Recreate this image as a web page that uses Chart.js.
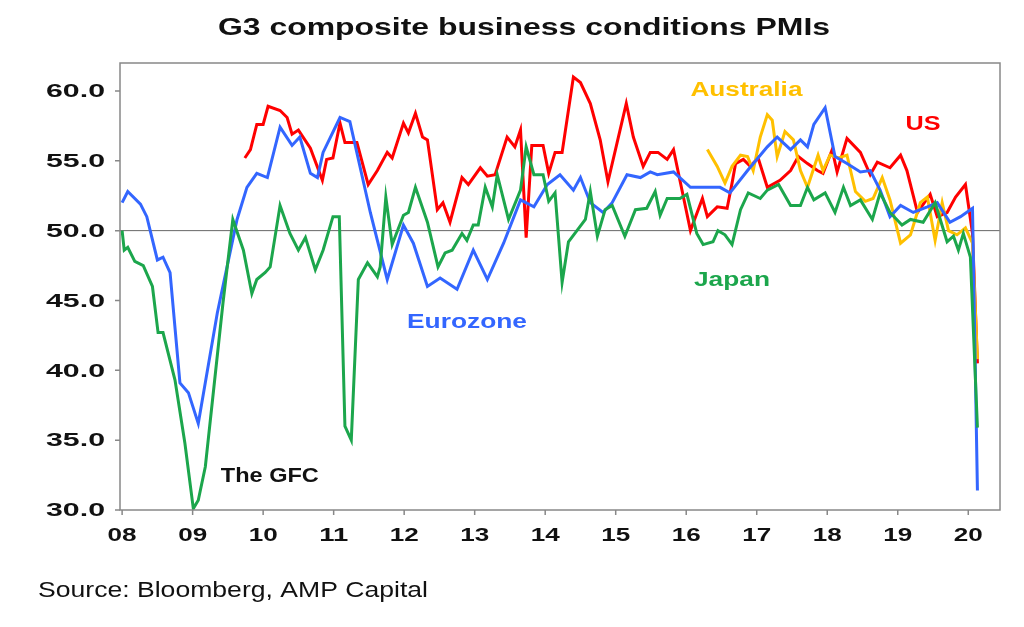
<!DOCTYPE html>
<html>
<head>
<meta charset="utf-8">
<script src="https://cdn.jsdelivr.net/npm/chart.js@4"></script>
<style>
  html, body { margin: 0; padding: 0; background: #fff; }
  #wrap { position: relative; width: 1024px; height: 627px; }
</style>
</head>
<body>
<div id="wrap"><canvas id="chart" width="1024" height="627"></canvas></div>
<script>
// [year, PMI] pairs
const eurozone = [
  [2008.0, 52.0], [2008.08, 52.8], [2008.26, 51.9], [2008.35, 51.0], [2008.5, 47.9], [2008.58, 48.1],
  [2008.68, 47.0], [2008.82, 39.1], [2008.94, 38.4], [2009.08, 36.2], [2009.35, 44.1], [2009.63, 50.8],
  [2009.77, 53.1], [2009.91, 54.1], [2010.06, 53.8], [2010.24, 57.4], [2010.41, 56.1], [2010.52, 56.7],
  [2010.67, 54.1], [2010.77, 53.8], [2010.85, 55.6], [2011.09, 58.1], [2011.23, 57.8], [2011.52, 51.3],
  [2011.76, 46.5], [2011.99, 50.4], [2012.13, 49.1], [2012.33, 46.0], [2012.51, 46.6], [2012.75, 45.8],
  [2012.98, 48.6], [2013.18, 46.5], [2013.41, 49.1], [2013.65, 52.2], [2013.84, 51.7], [2014.03, 53.3],
  [2014.21, 54.0], [2014.40, 52.9], [2014.50, 53.8], [2014.64, 52.0], [2014.82, 51.3], [2014.95, 52.0],
  [2015.16, 54.0], [2015.35, 53.8], [2015.49, 54.2], [2015.59, 54.0], [2015.82, 54.2], [2016.06, 53.1],
  [2016.48, 53.1], [2016.62, 52.7], [2016.87, 54.3], [2017.15, 56.0], [2017.29, 56.7], [2017.48, 55.8],
  [2017.62, 56.5], [2017.72, 56.0], [2017.81, 57.6], [2017.97, 58.8], [2018.11, 55.3], [2018.28, 54.8],
  [2018.47, 54.2], [2018.61, 54.3], [2018.75, 52.9], [2018.89, 51.0], [2019.04, 51.8], [2019.22, 51.3],
  [2019.42, 51.7], [2019.56, 52.0], [2019.74, 50.6], [2019.89, 51.0], [2020.03, 51.5], [2020.06, 51.6],
  [2020.13, 31.4]
];
const us = [
  [2009.74, 55.2], [2009.82, 55.8], [2009.91, 57.6], [2010.0, 57.6], [2010.07, 58.9], [2010.24, 58.6],
  [2010.34, 58.1], [2010.41, 56.9], [2010.5, 57.2], [2010.67, 55.9], [2010.84, 53.6], [2010.9, 55.1],
  [2010.99, 55.2], [2011.09, 57.7], [2011.16, 56.3], [2011.33, 56.3], [2011.49, 53.3], [2011.62, 54.3],
  [2011.76, 55.6], [2011.83, 55.2], [2011.99, 57.7], [2012.06, 57.0], [2012.16, 58.4], [2012.26, 56.7],
  [2012.33, 56.5], [2012.47, 51.5], [2012.55, 52.0], [2012.65, 50.6], [2012.82, 53.8], [2012.91, 53.3],
  [2013.08, 54.5], [2013.18, 53.9], [2013.29, 54.0], [2013.46, 56.7], [2013.57, 56.0], [2013.65, 57.2],
  [2013.73, 49.5], [2013.81, 56.1], [2013.97, 56.1], [2014.05, 54.1], [2014.14, 55.6], [2014.24, 55.6],
  [2014.40, 61.0], [2014.50, 60.6], [2014.64, 59.1], [2014.78, 56.5], [2014.89, 53.5], [2015.02, 56.3],
  [2015.15, 59.1], [2015.25, 56.7], [2015.39, 54.6], [2015.49, 55.6], [2015.60, 55.6], [2015.73, 55.1],
  [2015.82, 55.8], [2016.06, 50.0], [2016.23, 52.3], [2016.3, 51.0], [2016.44, 51.7], [2016.58, 51.6],
  [2016.65, 53.4], [2016.70, 54.8], [2016.81, 55.1], [2016.91, 54.6], [2017.02, 55.2], [2017.15, 53.1],
  [2017.33, 53.6], [2017.48, 54.3], [2017.59, 55.3], [2017.72, 54.8], [2017.86, 54.3], [2017.94, 54.1],
  [2018.07, 55.8], [2018.14, 54.2], [2018.28, 56.6], [2018.47, 55.6], [2018.61, 54.0], [2018.71, 54.9],
  [2018.89, 54.5], [2019.04, 55.4], [2019.13, 54.3], [2019.28, 51.3], [2019.46, 52.6], [2019.56, 51.0],
  [2019.70, 51.3], [2019.82, 52.4], [2019.96, 53.3], [2020.06, 49.8], [2020.13, 40.5]
];
const japan = [
  [2008.0, 50.0], [2008.03, 48.6], [2008.08, 48.8], [2008.18, 47.8], [2008.30, 47.5], [2008.43, 46.0],
  [2008.51, 42.7], [2008.58, 42.7], [2008.75, 39.3], [2008.89, 34.8], [2009.01, 30.1], [2009.08, 30.7],
  [2009.18, 33.1], [2009.43, 44.8], [2009.57, 50.8], [2009.72, 48.6], [2009.84, 45.5], [2009.91, 46.5],
  [2010.03, 47.0], [2010.10, 47.4], [2010.24, 51.8], [2010.38, 49.8], [2010.5, 48.6], [2010.60, 49.5],
  [2010.74, 47.2], [2010.85, 48.6], [2010.99, 51.0], [2011.08, 51.0], [2011.16, 36.0], [2011.25, 35.0],
  [2011.35, 46.5], [2011.48, 47.7], [2011.62, 46.7], [2011.66, 47.4], [2011.74, 52.4], [2011.83, 49.0],
  [2011.99, 51.1], [2012.06, 51.3], [2012.16, 53.1], [2012.33, 50.6], [2012.48, 47.4], [2012.58, 48.4],
  [2012.68, 48.6], [2012.82, 49.8], [2012.89, 49.3], [2012.98, 50.4], [2013.05, 50.4], [2013.15, 53.1],
  [2013.25, 51.7], [2013.32, 54.0], [2013.48, 50.8], [2013.65, 52.9], [2013.73, 56.0], [2013.84, 54.0],
  [2013.97, 54.0], [2014.05, 52.1], [2014.14, 52.7], [2014.24, 46.3], [2014.33, 49.2], [2014.45, 50.0],
  [2014.57, 50.8], [2014.64, 52.8], [2014.74, 49.6], [2014.85, 51.5], [2014.95, 51.8], [2015.13, 49.6],
  [2015.28, 51.5], [2015.44, 51.6], [2015.56, 52.8], [2015.63, 51.1], [2015.73, 52.3], [2015.91, 52.3],
  [2016.01, 52.6], [2016.15, 49.8], [2016.24, 49.0], [2016.38, 49.2], [2016.45, 50.0], [2016.55, 49.7],
  [2016.65, 49.0], [2016.77, 51.5], [2016.88, 52.7], [2017.05, 52.3], [2017.15, 52.9], [2017.31, 53.3],
  [2017.48, 51.8], [2017.62, 51.8], [2017.72, 53.1], [2017.81, 52.2], [2017.97, 52.7], [2018.11, 51.3],
  [2018.23, 53.1], [2018.33, 51.8], [2018.47, 52.2], [2018.64, 50.8], [2018.75, 52.7], [2018.89, 51.3],
  [2019.06, 50.4], [2019.18, 50.8], [2019.36, 50.6], [2019.53, 52.0], [2019.70, 49.2], [2019.79, 49.6],
  [2019.86, 48.6], [2019.93, 49.8], [2020.03, 48.1], [2020.13, 35.9]
];
const australia = [
  [2016.30, 55.8], [2016.44, 54.6], [2016.55, 53.4], [2016.65, 54.6], [2016.77, 55.4], [2016.87, 55.3],
  [2016.95, 54.3], [2017.05, 56.7], [2017.15, 58.3], [2017.22, 57.9], [2017.29, 55.3], [2017.40, 57.1],
  [2017.52, 56.5], [2017.62, 54.3], [2017.72, 53.1], [2017.87, 55.4], [2017.94, 54.3], [2018.04, 55.4],
  [2018.16, 55.2], [2018.28, 55.4], [2018.40, 52.8], [2018.54, 52.1], [2018.65, 52.3], [2018.78, 53.8],
  [2018.89, 52.2], [2019.04, 49.1], [2019.18, 49.7], [2019.32, 52.0], [2019.42, 52.4], [2019.53, 49.3],
  [2019.63, 52.0], [2019.72, 50.0], [2019.84, 49.7], [2019.96, 50.2], [2020.06, 49.1], [2020.13, 40.8]
];
const yearTicks = [2008, 2009, 2010, 2011, 2012, 2013, 2014, 2015, 2016, 2017, 2018, 2019, 2020];
const valueTicks = [30, 35, 40, 45, 50, 55, 60];

const BLUE = '#3366ff', RED = '#ff0000', GREEN = '#1ca64c', GOLD = '#ffc000';
const FONT = '"Liberation Sans", Arial, sans-serif';

const toPoints = (rows) => rows.map(([x, y]) => ({ x, y }));

const series = (label, rows, color) => ({
  label,
  data: toPoints(rows),
  borderColor: color,
  borderWidth: 3,
  pointRadius: 0,
  tension: 0,
});

// the source picture is stretched sideways, so text is squeezed out to a width
const stretchText = (ctx, text, x, y, width, align) => {
  const w = ctx.measureText(text).width;
  const sx = width / w;
  const left = align === 'center' ? x - width / 2 : align === 'right' ? x - width : x;
  ctx.save();
  ctx.translate(left, y);
  ctx.scale(sx, 1);
  ctx.textAlign = 'left';
  ctx.fillText(text, 0, 0);
  ctx.restore();
};

const decorations = {
  id: 'decorations',
  beforeDatasetsDraw(chart) {
    const { ctx, chartArea, scales: { y } } = chart;
    ctx.save();
    ctx.strokeStyle = '#666';
    ctx.lineWidth = 1;
    ctx.beginPath();
    ctx.moveTo(chartArea.left, y.getPixelForValue(50));
    ctx.lineTo(chartArea.right, y.getPixelForValue(50));
    ctx.stroke();
    ctx.restore();
  },
  afterDraw(chart) {
    const { ctx, chartArea, scales: { x, y } } = chart;
    ctx.save();
    ctx.strokeStyle = '#888';
    ctx.lineWidth = 1.5;
    ctx.strokeRect(chartArea.left, chartArea.top, chartArea.right - chartArea.left, chartArea.bottom - chartArea.top);

    // tick marks and labels
    ctx.beginPath();
    valueTicks.forEach(v => {
      const py = y.getPixelForValue(v);
      ctx.moveTo(chartArea.left - 5, py);
      ctx.lineTo(chartArea.left, py);
    });
    yearTicks.forEach(v => {
      const px = x.getPixelForValue(v);
      ctx.moveTo(px, chartArea.bottom);
      ctx.lineTo(px, chartArea.bottom + 5);
    });
    ctx.stroke();

    ctx.textBaseline = 'middle';
    ctx.fillStyle = '#111';
    ctx.font = `bold 19px ${FONT}`;
    valueTicks.forEach(v => stretchText(ctx, v.toFixed(1), 105, y.getPixelForValue(v) + 1, 59, 'right'));
    yearTicks.forEach(v => stretchText(ctx, String(v).slice(2), x.getPixelForValue(v), 536, 29, 'center'));

    ctx.font = `bold 23px ${FONT}`;
    stretchText(ctx, 'G3 composite business conditions PMIs', 524, 29, 612, 'center');

    ctx.font = `22px ${FONT}`;
    stretchText(ctx, 'Source: Bloomberg, AMP Capital', 38, 591, 390, 'left');

    const label = (text, color, yr, val, width) => {
      ctx.fillStyle = color;
      stretchText(ctx, text, x.getPixelForValue(yr), y.getPixelForValue(val), width, 'left');
    };
    ctx.font = `bold 20px ${FONT}`;
    label('The GFC', '#111', 2009.40, 32.4, 98);
    label('Eurozone', BLUE, 2012.04, 43.4, 120);
    label('Japan', GREEN, 2016.11, 46.4, 76);
    label('Australia', GOLD, 2016.06, 60.0, 112);
    label('US', RED, 2019.11, 57.6, 35);
    ctx.restore();
  }
};

new Chart(document.getElementById('chart'), {
  type: 'line',
  data: {
    datasets: [
      series('Japan', japan, GREEN),
      series('Eurozone', eurozone, BLUE),
      series('Australia', australia, GOLD),
      series('US', us, RED),
    ]
  },
  options: {
    responsive: false,
    animation: false,
    layout: { padding: { left: 20, top: 63, right: 24, bottom: 77 } },
    plugins: { legend: { display: false }, tooltip: { enabled: false } },
    scales: {
      x: {
        type: 'linear',
        min: 2007.97,
        max: 2020.45,
        afterBuildTicks: (axis) => { axis.ticks = yearTicks.map(v => ({ value: v })); },
        afterFit: (axis) => { axis.height = 40; },
        grid: { display: false },
        border: { display: false },
        ticks: { display: false },
      },
      y: {
        min: 30,
        max: 62,
        afterBuildTicks: (axis) => { axis.ticks = valueTicks.map(v => ({ value: v })); },
        afterFit: (axis) => { axis.width = 100; },
        grid: { display: false },
        border: { display: false },
        ticks: { display: false },
      },
    },
  },
  plugins: [decorations],
});
</script>
</body>
</html>
